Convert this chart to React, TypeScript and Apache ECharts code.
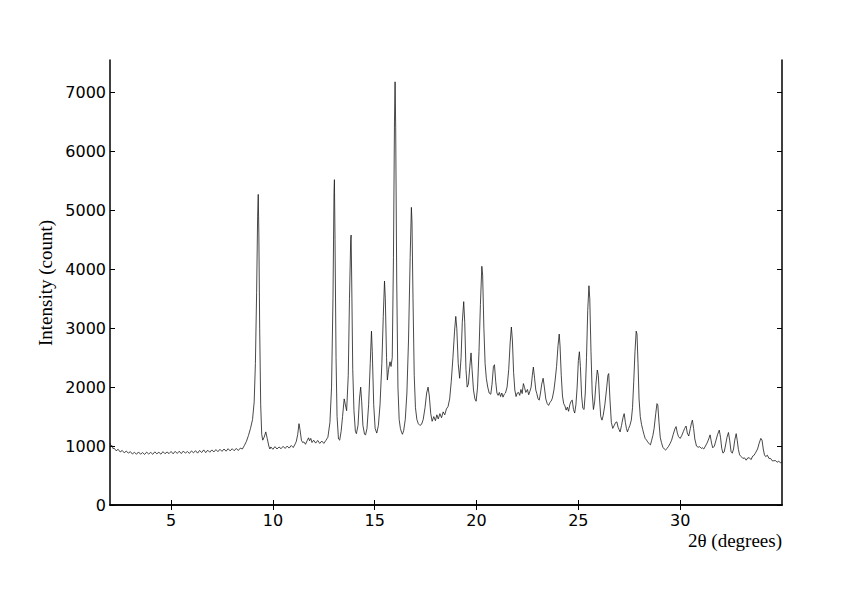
import React, { useEffect, useRef } from "react";
import * as echarts from "echarts";

const xTicks = [5, 10, 15, 20, 25, 30];
const yTicks = [0, 1000, 2000, 3000, 4000, 5000, 6000, 7000];
const xRange = [2, 35];
const yRange = [0, 7550];
const xTitle = "2θ (degrees)";
const yTitle = "Intensity (count)";

// baseline 2–8.8°
const segBaseline: [number, number][] = [
  [2.0, 1050], [2.05, 1000], [2.1, 1010], [2.15, 955], [2.2, 965], [2.3, 920], [2.4, 945], [2.5, 900],
  [2.6, 925], [2.7, 885], [2.8, 915], [2.9, 880], [3.0, 905], [3.1, 865], [3.2, 895], [3.3, 860],
  [3.4, 900], [3.5, 862], [3.6, 890], [3.7, 858], [3.8, 897], [3.9, 865], [4.0, 893], [4.1, 860],
  [4.2, 902], [4.3, 868], [4.4, 895], [4.5, 862], [4.6, 905], [4.7, 870], [4.8, 900], [4.9, 872],
  [5.0, 908], [5.1, 868], [5.2, 910], [5.3, 875], [5.4, 912], [5.5, 872], [5.6, 915], [5.7, 880],
  [5.8, 908], [5.9, 875], [6.0, 918], [6.1, 885], [6.2, 922], [6.3, 880], [6.4, 925], [6.5, 890],
  [6.6, 935], [6.7, 888], [6.8, 930], [6.9, 895], [7.0, 935], [7.1, 900], [7.2, 940], [7.3, 905],
  [7.4, 945], [7.5, 910], [7.6, 950], [7.7, 912], [7.8, 955], [7.9, 918], [8.0, 955], [8.1, 920],
  [8.2, 960], [8.3, 925], [8.4, 965], [8.5, 950], [8.6, 1010], [8.7, 1080],
];

// 8.8–12.7°
const segLow: [number, number][] = [
  [8.8, 1180], [8.9, 1300], [9.0, 1450], [9.08, 1750], [9.14, 2400], [9.2, 3600], [9.25, 4900],
  [9.28, 5270], [9.31, 4600], [9.35, 3000], [9.4, 1700], [9.45, 1200], [9.5, 1100], [9.57, 1150],
  [9.65, 1240], [9.72, 1130], [9.8, 1000], [9.85, 950], [9.9, 985], [10.0, 945], [10.1, 990],
  [10.2, 950], [10.3, 985], [10.4, 955], [10.5, 995], [10.6, 960], [10.7, 1000], [10.8, 965],
  [10.9, 1010], [11.0, 975], [11.1, 1040], [11.15, 1080], [11.22, 1200], [11.28, 1380], [11.33, 1280],
  [11.4, 1100], [11.46, 1060], [11.52, 1070], [11.6, 1030], [11.68, 1090], [11.75, 1140],
  [11.8, 1090], [11.86, 1130], [11.92, 1060], [12.0, 1100], [12.1, 1050], [12.2, 1095],
  [12.3, 1045], [12.4, 1085], [12.5, 1045], [12.6, 1095], [12.7, 1150],
];

// 12.8–18.7°
const segMain: [number, number][] = [
  [12.8, 1400], [12.88, 2000], [12.95, 3500], [13.0, 5300], [13.02, 5520], [13.05, 4500],
  [13.1, 2500], [13.15, 1500], [13.22, 1120], [13.28, 1100], [13.35, 1250], [13.42, 1500],
  [13.5, 1800], [13.56, 1700], [13.62, 1600], [13.7, 2200], [13.76, 3500], [13.82, 4500],
  [13.84, 4580], [13.87, 3800], [13.92, 2300], [13.98, 1600], [14.05, 1250], [14.1, 1210],
  [14.18, 1350], [14.25, 1800], [14.31, 2000], [14.36, 1750], [14.42, 1350], [14.5, 1200],
  [14.55, 1190], [14.62, 1300], [14.7, 1700], [14.78, 2400], [14.84, 2950], [14.88, 2600],
  [14.95, 1700], [15.02, 1300], [15.1, 1220], [15.18, 1350], [15.26, 1700], [15.35, 2400],
  [15.42, 3200], [15.48, 3800], [15.52, 3500], [15.58, 2500], [15.62, 2120], [15.68, 2300],
  [15.75, 2430], [15.8, 2350], [15.86, 2500], [15.92, 4200], [15.97, 6500], [16.0, 7180],
  [16.03, 6400], [16.08, 3800], [16.14, 2000], [16.2, 1450], [16.26, 1300], [16.32, 1230],
  [16.36, 1200], [16.42, 1260], [16.5, 1450], [16.58, 1900], [16.66, 2800], [16.74, 4200],
  [16.8, 5050], [16.83, 4800], [16.88, 3500], [16.94, 2200], [17.0, 1650], [17.07, 1450],
  [17.14, 1380], [17.22, 1350], [17.3, 1370], [17.38, 1450], [17.47, 1650], [17.55, 1900],
  [17.62, 2000], [17.68, 1850], [17.75, 1550], [17.82, 1420], [17.9, 1500], [17.98, 1430],
  [18.05, 1530], [18.12, 1460], [18.2, 1550], [18.28, 1480], [18.36, 1580], [18.44, 1530],
  [18.52, 1630], [18.6, 1670], [18.68, 1800],
];

// 18.7–25°
const segMid: [number, number][] = [
  [18.76, 2100], [18.84, 2500], [18.92, 2950], [18.98, 3200], [19.03, 3000], [19.1, 2400],
  [19.17, 2150], [19.24, 2500], [19.3, 3100], [19.37, 3450], [19.42, 3100], [19.48, 2300],
  [19.54, 2000], [19.6, 2050], [19.67, 2350], [19.73, 2580], [19.78, 2300], [19.85, 1950],
  [19.92, 1800], [19.98, 1760], [20.05, 2000], [20.12, 2600], [20.19, 3400], [20.26, 4050],
  [20.3, 3900], [20.36, 3000], [20.42, 2400], [20.48, 2150], [20.55, 2000], [20.62, 1900],
  [20.7, 1880], [20.76, 2050], [20.83, 2350], [20.88, 2380], [20.94, 2100], [21.0, 1900],
  [21.06, 1860], [21.12, 1910], [21.18, 1840], [21.24, 1900], [21.3, 1830], [21.36, 1880],
  [21.42, 1900], [21.5, 2000], [21.58, 2300], [21.65, 2750], [21.71, 3020], [21.76, 2800],
  [21.82, 2250], [21.88, 1950], [21.94, 1840], [22.0, 1900], [22.06, 1910], [22.12, 1860],
  [22.18, 1960], [22.24, 1890], [22.3, 2060], [22.36, 1990], [22.42, 1910], [22.5, 1960],
  [22.56, 1870], [22.62, 1930], [22.68, 2000], [22.74, 2200], [22.79, 2340], [22.85, 2150],
  [22.91, 1950], [22.96, 1890], [23.02, 1800], [23.08, 1780], [23.14, 1900], [23.2, 2050],
  [23.27, 2150], [23.33, 2000], [23.4, 1800], [23.47, 1720], [23.54, 1690], [23.6, 1740],
  [23.66, 1760], [23.72, 1810], [23.8, 1950], [23.86, 2120], [23.93, 2350], [24.0, 2700],
  [24.06, 2900], [24.1, 2700], [24.16, 2200], [24.22, 1850], [24.28, 1720], [24.34, 1680],
  [24.4, 1610], [24.46, 1660], [24.52, 1590], [24.58, 1700], [24.64, 1760], [24.7, 1780],
  [24.76, 1620], [24.82, 1560], [24.88, 1700], [24.94, 2000],
];

// 25–35°
const segHigh: [number, number][] = [
  [25.0, 2450], [25.05, 2600], [25.1, 2350], [25.16, 1850], [25.22, 1640], [25.28, 1620],
  [25.34, 1900], [25.4, 2500], [25.46, 3300], [25.52, 3720], [25.56, 3500], [25.62, 2600],
  [25.68, 1900], [25.74, 1620], [25.8, 1750], [25.86, 2050], [25.93, 2290], [25.98, 2200],
  [26.04, 1800], [26.1, 1500], [26.16, 1440], [26.22, 1520], [26.3, 1700], [26.38, 1950],
  [26.45, 2200], [26.49, 2230], [26.55, 1800], [26.62, 1400], [26.69, 1300], [26.76, 1350],
  [26.83, 1400], [26.89, 1410], [26.95, 1320], [27.0, 1280], [27.05, 1240], [27.12, 1350],
  [27.19, 1480], [27.25, 1550], [27.31, 1400], [27.36, 1300], [27.41, 1240], [27.47, 1300],
  [27.53, 1350], [27.6, 1440], [27.66, 1650], [27.72, 2100], [27.78, 2600], [27.84, 2950],
  [27.88, 2900], [27.93, 2400], [27.98, 1800], [28.04, 1500], [28.1, 1370], [28.16, 1280],
  [28.22, 1200], [28.28, 1130], [28.35, 1100], [28.42, 1060], [28.48, 1040], [28.54, 1020],
  [28.6, 1100], [28.66, 1180], [28.72, 1300], [28.8, 1550], [28.86, 1720], [28.9, 1700],
  [28.96, 1400], [29.02, 1150], [29.08, 1060], [29.15, 980], [29.22, 950], [29.28, 930],
  [29.35, 960], [29.42, 990], [29.5, 1040], [29.58, 1100], [29.66, 1200], [29.74, 1290],
  [29.8, 1330], [29.86, 1220], [29.92, 1160], [30.0, 1130], [30.08, 1180], [30.16, 1250],
  [30.22, 1300], [30.29, 1340], [30.35, 1220], [30.42, 1170], [30.5, 1300], [30.56, 1400],
  [30.6, 1440], [30.66, 1300], [30.72, 1120], [30.8, 1000], [30.88, 980], [30.96, 990],
  [31.04, 960], [31.1, 970], [31.16, 950], [31.24, 1000], [31.32, 1050], [31.4, 1120],
  [31.47, 1190], [31.54, 1050], [31.6, 970], [31.68, 1000], [31.76, 1100], [31.84, 1200],
  [31.92, 1270], [31.98, 1150], [32.04, 960], [32.1, 880], [32.16, 900], [32.22, 1000],
  [32.3, 1150], [32.37, 1230], [32.43, 1100], [32.5, 900], [32.56, 880], [32.62, 950],
  [32.68, 1100], [32.75, 1210], [32.8, 1100], [32.86, 940], [32.92, 850], [33.0, 820],
  [33.08, 790], [33.16, 800], [33.24, 760], [33.32, 800], [33.4, 800], [33.48, 770],
  [33.56, 830], [33.62, 840], [33.7, 885], [33.8, 950], [33.88, 1050], [33.96, 1130],
  [34.02, 1100], [34.08, 950], [34.14, 850], [34.2, 820], [34.28, 845], [34.36, 790],
  [34.44, 790], [34.52, 750], [34.6, 750], [34.68, 755], [34.76, 725], [34.84, 745],
  [34.92, 715], [35.0, 730],
];

const pattern = [...segBaseline, ...segLow, ...segMain, ...segMid, ...segHigh];

export default function App() {
  const ref = useRef<HTMLDivElement>(null);
  useEffect(() => {
    if (!ref.current) return;
    const chart = echarts.init(ref.current, undefined, { renderer: "svg" });
    const axisLine = { show: true, lineStyle: { color: "#000", width: 1.5 } };
    const tickStyle = { color: "#000", width: 1 };
    const labelFont = { fontFamily: "DejaVu Sans", fontSize: 16, color: "#000" };
    chart.setOption({
      animation: false,
      backgroundColor: "#fff",
      grid: { left: 110, right: 60, top: 60, bottom: 90, containLabel: false, outerBoundsMode: "none" },
      xAxis: [
        {
          type: "value", min: xRange[0], max: xRange[1], position: "bottom",
          axisLine, splitLine: { show: false },
          axisTick: { show: true, inside: true, length: 5, lineStyle: tickStyle, customValues: xTicks },
          axisLabel: { ...labelFont, margin: 7, customValues: xTicks, formatter: (v: number) => String(v) },
        },
        {
          type: "value", min: xRange[0], max: xRange[1], position: "top",
          axisLine, splitLine: { show: false },
          axisTick: { show: true, inside: true, length: 5, lineStyle: tickStyle, customValues: xTicks },
          axisLabel: { show: false },
        },
      ],
      yAxis: [
        {
          type: "value", min: yRange[0], max: yRange[1], position: "left",
          axisLine, splitLine: { show: false },
          axisTick: { show: true, inside: true, length: 5, lineStyle: tickStyle, customValues: yTicks },
          axisLabel: { ...labelFont, margin: 4, customValues: yTicks, formatter: (v: number) => String(v) },
        },
        {
          type: "value", min: yRange[0], max: yRange[1], position: "right",
          axisLine, splitLine: { show: false },
          axisTick: { show: true, inside: true, length: 5, lineStyle: tickStyle, customValues: yTicks },
          axisLabel: { show: false },
        },
      ],
      series: [
        {
          type: "line", xAxisIndex: 0, yAxisIndex: 0, data: pattern,
          showSymbol: false, symbol: "none", clip: true,
          lineStyle: { color: "#1a1a1a", width: 0.8 },
        },
      ],
      graphic: [
        {
          type: "text", x: 782, y: 540,
          style: { text: xTitle, fontFamily: "Liberation Serif", fontSize: 19, fill: "#000", align: "right", verticalAlign: "middle" },
        },
        {
          type: "text", x: 45, y: 283, rotation: Math.PI / 2,
          style: { text: yTitle, fontFamily: "Liberation Serif", fontSize: 19, fill: "#000", align: "center", verticalAlign: "middle" },
        },
      ],
    });
    return () => chart.dispose();
  }, []);
  return <div ref={ref} style={{ position: "fixed", left: 0, top: 0, width: 842, height: 595 }} />;
}
